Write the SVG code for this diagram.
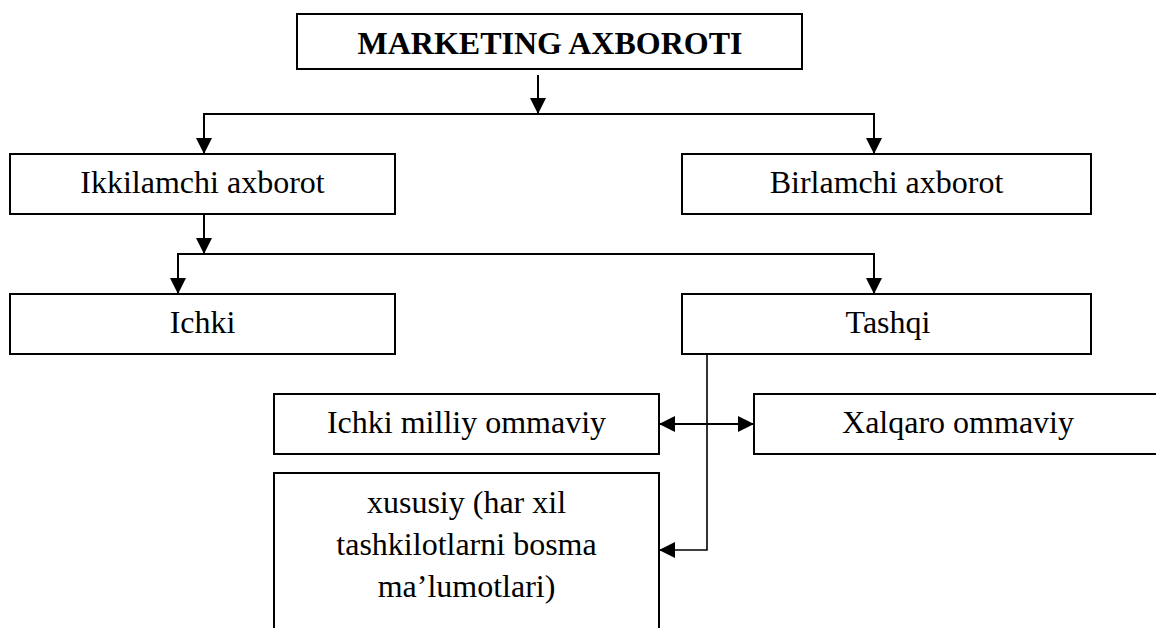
<svg xmlns="http://www.w3.org/2000/svg" width="1156" height="628" viewBox="0 0 1156 628">
<style>
.box{fill:#fff;stroke:#000;stroke-width:2}
.t{font-family:"Liberation Serif","Times New Roman",serif;font-size:32px;fill:#000;text-anchor:middle}
.b{font-weight:bold}
.c{fill:none;stroke:#000;stroke-width:2}
.thin{stroke-width:1.6}
</style>
<defs>
<marker id="ah" markerUnits="userSpaceOnUse" markerWidth="16" markerHeight="16" refX="16" refY="8" orient="auto">
<path d="M0,0 L16,8 L0,16 z" fill="#000"/>
</marker>
<marker id="ahs" markerUnits="userSpaceOnUse" markerWidth="16" markerHeight="16" refX="0" refY="8" orient="auto">
<path d="M16,0 L0,8 L16,16 z" fill="#000"/>
</marker>
</defs>
<rect width="1156" height="628" fill="#fff"/>
<g id="connectors">
<line class="c" x1="538" y1="75" x2="538" y2="114" marker-end="url(#ah)"/>
<polyline class="c" points="204,154 204,114 874,114 874,154" marker-end="url(#ah)"/>
<line class="c" x1="204" y1="130" x2="204" y2="154" marker-end="url(#ah)"/>
<line class="c" x1="204" y1="214" x2="204" y2="254" marker-end="url(#ah)"/>
<polyline class="c" points="178,294 178,254 874,254 874,294" marker-end="url(#ah)"/>
<line class="c" x1="178" y1="270" x2="178" y2="294" marker-end="url(#ah)"/>
<polyline class="c thin" points="707,354 707,550 659,550" marker-end="url(#ah)"/>
<line class="c" x1="659" y1="424" x2="754" y2="424" marker-start="url(#ahs)" marker-end="url(#ah)"/>
</g>
<g id="marketing">
<rect class="box" x="297" y="14" width="505" height="55"/>
<text class="t b" x="550" y="54">MARKETING AXBOROTI</text>
</g>
<g id="ikkilamchi">
<rect class="box" x="10" y="154" width="385" height="60"/>
<text class="t" x="202.5" y="193">Ikkilamchi axborot</text>
</g>
<g id="birlamchi">
<rect class="box" x="682" y="154" width="409" height="60"/>
<text class="t" x="886.5" y="193">Birlamchi axborot</text>
</g>
<g id="ichki">
<rect class="box" x="10" y="294" width="385" height="60"/>
<text class="t" x="202.5" y="333">Ichki</text>
</g>
<g id="tashqi">
<rect class="box" x="682" y="294" width="409" height="60"/>
<text class="t" x="888" y="333">Tashqi</text>
</g>
<g id="ichki-milliy">
<rect class="box" x="274" y="394" width="385" height="60"/>
<text class="t" x="466.5" y="433">Ichki milliy ommaviy</text>
</g>
<g id="xalqaro">
<rect class="box" x="754" y="394" width="410" height="60"/>
<text class="t" x="958" y="433">Xalqaro ommaviy</text>
</g>
<g id="xususiy">
<rect class="box" x="274" y="473" width="385" height="170"/>
<text class="t" x="466.5" y="513">xususiy (har xil</text>
<text class="t" x="466.5" y="555">tashkilotlarni bosma</text>
<text class="t" x="466.5" y="597">ma’lumotlari)</text>
</g>
</svg>
